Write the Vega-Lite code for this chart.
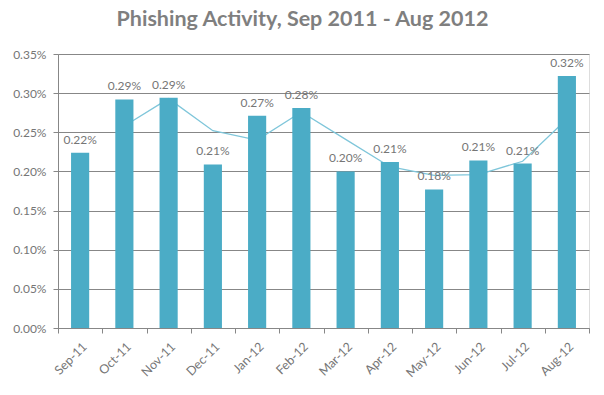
{
  "$schema": "https://vega.github.io/schema/vega-lite/v6.json",
  "autosize": "none",
  "width": 531,
  "height": 274,
  "padding": {"left": 58, "top": 54, "right": 15, "bottom": 67},
  "background": "white",
  "title": {
    "text": "Phishing Activity, Sep 2011 - Aug 2012",
    "font": "Lato",
    "fontSize": 21.5,
    "fontWeight": "bold",
    "color": "#7f7f7f",
    "anchor": "middle",
    "dx": -21,
    "offset": 18
  },
  "data": {
    "values": [
      {"month": "Sep-11", "rate": 0.00224, "ma": null},
      {"month": "Oct-11", "rate": 0.00292, "ma": 0.00258},
      {"month": "Nov-11", "rate": 0.00294, "ma": 0.00293},
      {"month": "Dec-11", "rate": 0.00209, "ma": 0.00252},
      {"month": "Jan-12", "rate": 0.00271, "ma": 0.00240},
      {"month": "Feb-12", "rate": 0.00281, "ma": 0.00276},
      {"month": "Mar-12", "rate": 0.00200, "ma": 0.00241},
      {"month": "Apr-12", "rate": 0.00212, "ma": 0.00206},
      {"month": "May-12", "rate": 0.00177, "ma": 0.00195},
      {"month": "Jun-12", "rate": 0.00214, "ma": 0.00196},
      {"month": "Jul-12", "rate": 0.00210, "ma": 0.00213},
      {"month": "Aug-12", "rate": 0.00322, "ma": 0.00267}
    ]
  },
  "encoding": {
    "x": {
      "field": "month",
      "type": "nominal",
      "sort": null,
      "scale": {"paddingInner": 0, "paddingOuter": 0},
      "axis": {
        "title": null,
        "labelAngle": -45,
        "labelFont": "Lato",
        "labelFontSize": 12.5,
        "labelColor": "#767676",
        "labelPadding": 7,
        "tickBand": "extent",
        "tickSize": 5,
        "tickColor": "#878787",
        "domainColor": "#878787",
        "grid": false
      }
    },
    "y": {
      "field": "rate",
      "type": "quantitative",
      "scale": {"domain": [0, 0.0035], "nice": false},
      "axis": {
        "title": null,
        "format": ".2%",
        "values": [0, 0.0005, 0.001, 0.0015, 0.002, 0.0025, 0.003, 0.0035],
        "labelOverlap": false,
        "labelFont": "Lato",
        "labelFontSize": 12,
        "labelColor": "#767676",
        "labelPadding": 7,
        "tickSize": 5,
        "tickColor": "#878787",
        "domainColor": "#878787",
        "gridColor": "#878787",
        "gridWidth": 1
      }
    }
  },
  "layer": [
    {
      "mark": {"type": "line", "color": "#7fc6da", "strokeWidth": 1.3},
      "encoding": {
        "y": {
          "field": "ma",
          "type": "quantitative",
          "scale": {"domain": [0, 0.0035], "nice": false},
          "axis": {
            "title": null,
            "format": ".2%",
            "values": [0, 0.0005, 0.001, 0.0015, 0.002, 0.0025, 0.003, 0.0035],
            "labelOverlap": false,
            "labelFont": "Lato",
            "labelFontSize": 12,
            "labelColor": "#767676",
            "labelPadding": 7,
            "tickSize": 5,
            "tickColor": "#878787",
            "domainColor": "#878787",
            "gridColor": "#878787",
            "gridWidth": 1
          }
        }
      }
    },
    {
      "mark": {"type": "bar", "color": "#4bacc6", "width": {"band": 0.41}}
    },
    {
      "mark": {"type": "text", "baseline": "alphabetic", "dy": -9, "font": "Lato", "fontSize": 12, "color": "#767676"},
      "encoding": {
        "text": {"field": "rate", "type": "quantitative", "format": ".2%"}
      }
    }
  ]
}
